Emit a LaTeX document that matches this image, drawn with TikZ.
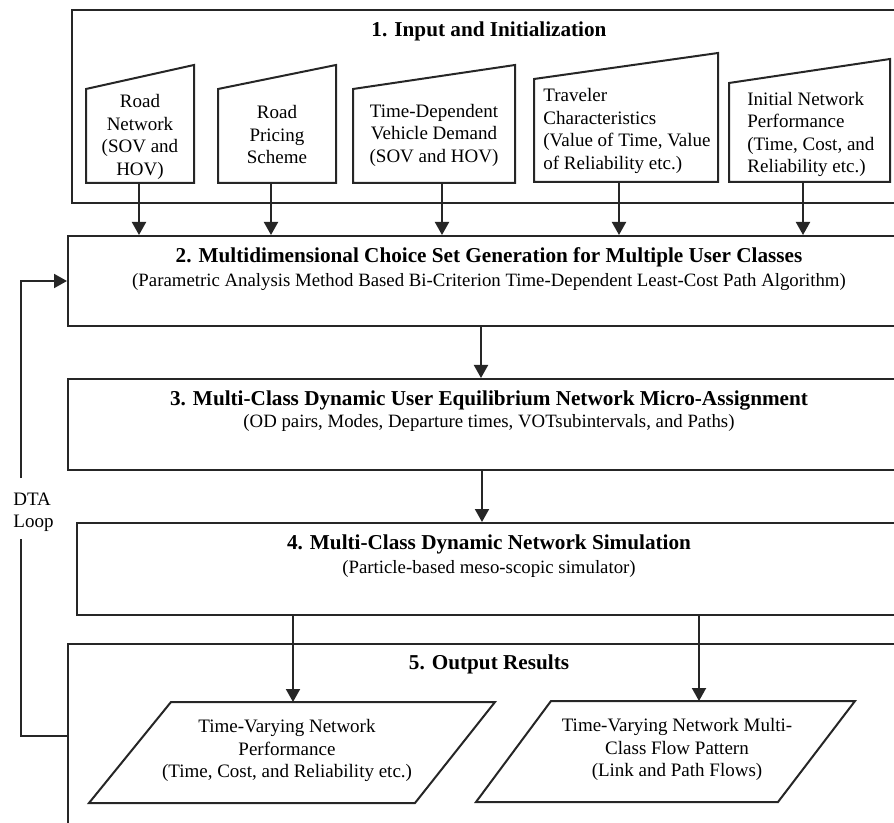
\documentclass[tikz,border=0pt]{standalone}
\usepackage{fontspec}
\setmainfont{Liberation Serif}
\usetikzlibrary{arrows.meta}
\begin{document}
\begin{tikzpicture}[x=0.5pt,y=-0.5pt,
 line/.style={line width=1pt, draw=black!85},
 arr/.style={line, -{Triangle[width=7pt,length=6.5pt]}},
 box/.style={line, rectangle, inner sep=0},
 ttl/.style={font=\fontsize{10.6}{12.5}\bfseries\selectfont, anchor=base, inner sep=0},
 sub/.style={font=\fontsize{9.4}{11.25}\selectfont, anchor=base, inner sep=0},
 txt/.style={font=\fontsize{9.5}{11.25}\selectfont, align=center, inner sep=0},
 ltxt/.style={font=\fontsize{9.5}{11.25}\selectfont, align=left, inner sep=0, anchor=west}
]
\useasboundingbox (0,0) rectangle (894,823);
\clip (0,0) rectangle (894,823);
% main boxes
\node[box, minimum width=417pt, minimum height=96.5pt] (b1) at (489,106.5) {};
\node[box, minimum width=421pt, minimum height=45pt] (b2) at (489,281) {};
\node[box, minimum width=421pt, minimum height=45.5pt] (b3) at (489,424.5) {};
\node[box, minimum width=412pt, minimum height=46pt] (b4) at (489,569) {};
\node[box, minimum width=421pt, minimum height=158pt] (b5) at (489,802) {};
% titles
\node[ttl] (t1) at (489,36.5) {1. Input and Initialization};
\node[ttl] (t2) at (489,262.5) {2. Multidimensional Choice Set Generation for Multiple User Classes};
\node[sub] (u2) at (489,287) {(Parametric Analysis Method Based Bi-Criterion Time-Dependent Least-Cost Path Algorithm)};
\node[ttl] (t3) at (489,405.5) {3. Multi-Class Dynamic User Equilibrium Network Micro-Assignment};
\node[sub] (u3) at (489,428) {(OD pairs, Modes, Departure times, VOTsubintervals, and Paths)};
\node[ttl] (t4) at (489,549.5) {4. Multi-Class Dynamic Network Simulation};
\node[sub] (u4) at (489,573) {(Particle-based meso-scopic simulator)};
\node[ttl] (t5) at (489,669.5) {5. Output Results};
% input shapes
\draw[line] (86,183) -- (86,89) -- (194,65) -- (194,183) -- cycle;
\draw[line] (218,183) -- (218,89) -- (336,65) -- (336,183) -- cycle;
\draw[line] (353,183) -- (353,89) -- (515,65) -- (515,183) -- cycle;
\draw[line] (534,182) -- (534,79) -- (718,53) -- (718,182) -- cycle;
\draw[line] (729,182) -- (729,83) -- (890,59) -- (890,182) -- cycle;
\node[txt] (s1) at (140,137) {Road\\Network\\(SOV and\\HOV)};
\node[txt] (s2) at (277,135) {Road\\Pricing\\Scheme};
\node[txt] (s3) at (434,135) {Time-Dependent\\Vehicle Demand\\(SOV and HOV)};
\node[ltxt] (s4) at (543,131) {Traveler\\Characteristics\\(Value of Time, Value\\of Reliability etc.)};
\node[ltxt] (s5) at (747,134.5) {Initial Network\\Performance\\(Time, Cost, and\\Reliability etc.)};
\coordinate (c1) at (139,183);
\coordinate (c2) at (271,183);
\coordinate (c3) at (442,183);
\coordinate (c4) at (619,182);
\coordinate (c5) at (803,182);
\foreach \c in {c1,c2,c3,c4,c5} \draw[arr] (\c) -- (\c |- b2.north);
% between boxes
\draw[arr] (b2.south -| 481,0) -- (b3.north -| 481,0);
\draw[arr] (b3.south -| 482,0) -- (b4.north -| 482,0);
% output shapes
\draw[line] (171,702) -- (495,702) -- (415,803) -- (89,803) -- cycle;
\draw[line] (551,701) -- (855,701) -- (778,802) -- (476,802) -- cycle;
\node[txt] (p1) at (287,750.5) {Time-Varying Network\\Performance\\(Time, Cost, and Reliability etc.)};
\node[txt] (p2) at (677,749.5) {Time-Varying Network Multi-\\Class Flow Pattern\\(Link and Path Flows)};
\coordinate (q1) at (293,702);
\coordinate (q2) at (699,701);
\draw[arr] (b4.south -| q1) -- (q1);
\draw[arr] (b4.south -| q2) -- (q2);
% DTA loop
\node[ltxt] (dta) at (13,512) {DTA\\Loop};
\coordinate (l1) at (21,539);
\coordinate (l2) at (21,478);
\draw[line] (b5.west |- 0,736) -- (21,736) -- (l1);
\draw[arr] (l2) -- (21,281) -- (b2.west);
\end{tikzpicture}
\end{document}
